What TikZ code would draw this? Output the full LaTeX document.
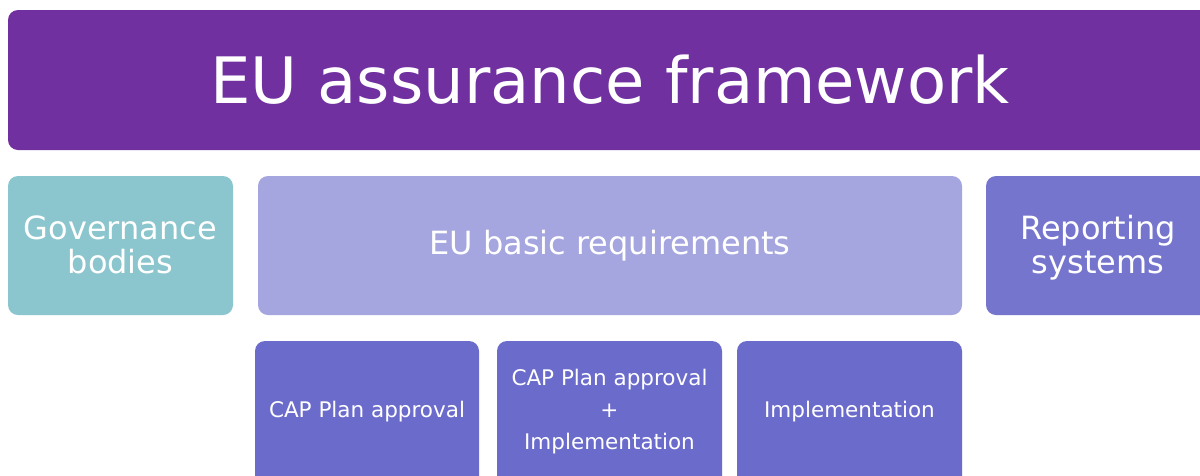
\documentclass[tikz,border=0pt]{standalone}
\usepackage{fontspec}
\setmainfont{DejaVu Sans}
\definecolor{banner}{HTML}{7030A0}
\definecolor{govc}{HTML}{8BC5CD}
\definecolor{basicc}{HTML}{A5A5DF}
\definecolor{repc}{HTML}{7575CE}
\definecolor{smallc}{HTML}{6B6BCC}
\begin{document}
\begin{tikzpicture}[x=1pt,y=-1pt,
  boxbase/.style={rounded corners=10pt,draw=none,text=white,align=center},
  bigtxt/.style={font=\fontsize{32}{34}\selectfont},
  smalltxt/.style={font=\fontsize{21.5}{32}\selectfont}]
\useasboundingbox[fill=white] (0,0) rectangle (1200,475);
\begin{scope}
\clip (0,0) rectangle (1200,475);
% banner
\fill[banner,rounded corners=10pt] (8,10) rectangle (1230,150);
\node[text=white,font=\fontsize{64}{70}\selectfont] (title) at (610,80) {EU assurance framework};
% second row
\fill[govc,rounded corners=10pt] (8,176) rectangle (233,315);
\node[boxbase,bigtxt] (gov) at (120.5,245) {Governance\\bodies};
\fill[basicc,rounded corners=10pt] (258,176) rectangle (962,315);
\node[boxbase,bigtxt] (basic) at (610,246) {EU basic requirements};
\fill[repc,rounded corners=10pt] (986,176) rectangle (1230,315);
\node[boxbase,bigtxt] (rep) at (1098,247.5) {Reporting\\systems};
% third row
\fill[smallc,rounded corners=10pt] (255,341) rectangle (479,500);
\node[boxbase,smalltxt] (cap) at (367,411.5) {CAP Plan approval};
\fill[smallc,rounded corners=10pt] (497,341) rectangle (722,500);
\node[boxbase,smalltxt] (capimpl) at (609.5,411.5) {CAP Plan approval\\+\\Implementation};
\fill[smallc,rounded corners=10pt] (737,341) rectangle (962,500);
\node[boxbase,smalltxt] (impl) at (849.5,411.5) {Implementation};
\end{scope}
\end{tikzpicture}
\end{document}
